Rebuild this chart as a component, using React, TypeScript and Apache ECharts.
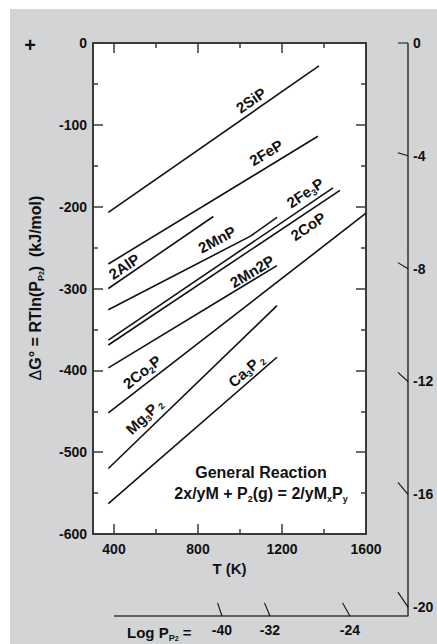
import React, { useEffect, useRef } from "react";
import * as echarts from "echarts";

const FONT = "'Liberation Sans', Arial, Helvetica, sans-serif";
const INK = "#111111";
const AXIS = "#3a3a3a";
const PAGE_BG = "#d3d4d6";

// Temperature axis (K)
const T_MIN = 300;
const T_MAX = 1600;
const T_LABELS = [400, 800, 1200, 1600];
const T_MINOR = [600, 1000, 1400];
// Free-energy axis (kJ/mol)
const G_MIN = -600;
const G_MAX = 0;
const G_STEP = 100;

// Reaction lines: [T (K), ΔG° (kJ/mol)]
const line2SiP = [[373, -207], [1376, -28]];
const line2FeP = [[373, -270], [1371, -114]];
const line2AlP = [[373, -300], [873, -212]];
const line2MnP = [[373, -326], [1050, -236], [1176, -213]];
const line2Fe3P = [[373, -363], [1443, -177]];
const line2CoP = [[373, -369], [1476, -180]];
const line2Mn2P = [[373, -397], [1176, -272]];
const line2Co2P = [[373, -452], [1600, -208]];
const lineMg3P2 = [[373, -520], [1176, -321]];
const lineCa3P2 = [[373, -563], [1176, -384]];

const SERIES_NAMES = ["2SiP", "2FeP", "2AlP", "2MnP", "2Fe3P", "2CoP", "2Mn2P", "2Co2P", "Mg3P2", "Ca3P2"];
const SERIES_DATA = [line2SiP, line2FeP, line2AlP, line2MnP, line2Fe3P, line2CoP, line2Mn2P, line2Co2P, lineMg3P2, lineCa3P2];

// In-plot labels
const LABEL_TEXT = [
  "{n|2SiP}",
  "{n|2FeP}",
  "{n|2AlP}",
  "{n|2MnP}",
  "{n|2Fe}{s|3}{n|P}",
  "{n|2CoP}",
  "{n|2Mn2P}",
  "{n|2Co}{s|2}{n|P}",
  "{n|Mg}{s|3}{n|P}{s| 2}",
  "{n|Ca}{s|3}{n|P}{s| 2}",
];
const LABEL_T = [1052, 1124, 448, 890, 1310, 1324, 1057, 533, 543, 1029];
const LABEL_G = [-70, -134, -273, -240, -183, -224, -279, -402, -456, -400];
const LABEL_ANGLE = [35, 31, 34, 28, 34, 34, 31, 38, 44, 41];

// Log P(P2) nomogram scales
const LOGP_RIGHT = [0, -4, -8, -12, -16, -20];
const LOGP_BOTTOM = [-40, -32, -24];
const NOMO_T = 1800; // K, right scale position
const NOMO_G = -700; // kJ/mol, bottom scale position
const NOMO_T_START = 400;
const R_LN10 = (8.314 * Math.log(10)) / 1000; // kJ/(mol K)

const richLabel = {
  n: { fontFamily: FONT, fontSize: 15, fontWeight: "bold", color: INK, lineHeight: 19, textBorderWidth: 0, opacity: 1 },
  s: { fontFamily: FONT, fontSize: 9, fontWeight: "bold", color: INK, lineHeight: 10, verticalAlign: "bottom", textBorderWidth: 0, opacity: 1 },
};

function buildOption() {
  const tickStyle = { color: AXIS, width: 1.5 };
  const axisLineStyle = { color: AXIS, width: 2 };
  const tickLabel = { fontFamily: FONT, fontSize: 14, fontWeight: "bold", color: INK };
  const plain = (v: number) => String(v);

  const xAxes: any[] = [
    {
      gridIndex: 0, type: "value", min: T_MIN, max: T_MAX, position: "bottom",
      axisLine: { show: true, onZero: false, lineStyle: axisLineStyle },
      axisTick: { show: true, inside: true, length: 10, customValues: T_LABELS, lineStyle: tickStyle },
      axisLabel: { show: true, customValues: T_LABELS, margin: 8, formatter: plain, ...tickLabel },
      splitLine: { show: false },
      name: "T (K)", nameLocation: "middle", nameGap: 26,
      nameTextStyle: { fontFamily: FONT, fontSize: 15, fontWeight: "bold", color: INK },
    },
    {
      gridIndex: 0, type: "value", min: T_MIN, max: T_MAX, position: "bottom",
      axisLine: { show: false, onZero: false },
      axisTick: { show: true, inside: true, length: 5, customValues: T_MINOR, lineStyle: tickStyle },
      axisLabel: { show: false }, splitLine: { show: false },
    },
    {
      gridIndex: 0, type: "value", min: T_MIN, max: T_MAX, position: "top",
      axisLine: { show: true, onZero: false, lineStyle: axisLineStyle },
      axisTick: { show: true, inside: true, length: 10, customValues: T_LABELS, lineStyle: tickStyle },
      axisLabel: { show: false }, splitLine: { show: false },
    },
    {
      gridIndex: 0, type: "value", min: T_MIN, max: T_MAX, position: "top",
      axisLine: { show: false, onZero: false },
      axisTick: { show: true, inside: true, length: 5, customValues: T_MINOR, lineStyle: tickStyle },
      axisLabel: { show: false }, splitLine: { show: false },
    },
    { gridIndex: 1, type: "value", min: 0, max: NOMO_T, show: false },
  ];

  const yAxes: any[] = [
    {
      gridIndex: 0, type: "value", min: G_MIN, max: G_MAX, interval: G_STEP, position: "left",
      axisLine: { show: true, onZero: false, lineStyle: axisLineStyle },
      axisTick: { show: true, inside: true, length: 10, lineStyle: tickStyle },
      minorTick: { show: true, splitNumber: 2, length: 5, lineStyle: tickStyle },
      axisLabel: { show: true, margin: 6, formatter: plain, ...tickLabel },
      splitLine: { show: false },
    },
    {
      gridIndex: 0, type: "value", min: G_MIN, max: G_MAX, interval: G_STEP, position: "right",
      axisLine: { show: true, onZero: false, lineStyle: axisLineStyle },
      axisTick: { show: true, inside: true, length: 10, lineStyle: tickStyle },
      minorTick: { show: true, splitNumber: 2, length: 5, lineStyle: tickStyle },
      axisLabel: { show: false },
      splitLine: { show: false },
    },
    { gridIndex: 1, type: "value", min: NOMO_G, max: 0, show: false },
  ];

  const series: any[] = [];

  SERIES_DATA.forEach((d, i) => {
    series.push({
      type: "line", name: SERIES_NAMES[i], xAxisIndex: 0, yAxisIndex: 0,
      data: d, symbol: "none", silent: true, clip: false,
      lineStyle: { color: INK, width: 1.6 },
    });
  });

  series.push({
    type: "scatter", xAxisIndex: 0, yAxisIndex: 0, symbolSize: 0, silent: true,
    itemStyle: { color: INK, opacity: 1 },
    data: LABEL_T.map((t, i) => ({
      value: [t, LABEL_G[i]],
      label: {
        show: true, position: "top", distance: 0, formatter: LABEL_TEXT[i], rotate: LABEL_ANGLE[i],
        align: "center", verticalAlign: "middle", rich: richLabel, opacity: 1,
        color: INK, fontWeight: "bold", fontFamily: FONT, fontSize: 15, textBorderWidth: 0,
      },
    })),
  });

  // Nomogram frame (grid 1)
  const nomoLine = { color: AXIS, width: 1.6 };
  series.push({
    type: "line", xAxisIndex: 4, yAxisIndex: 2, symbol: "none", silent: true, clip: false,
    data: [[NOMO_T_START, NOMO_G], [NOMO_T, NOMO_G], [NOMO_T, 0]],
    lineStyle: nomoLine,
  });
  LOGP_RIGHT.forEach((k) => {
    const t0 = NOMO_T - 48;
    series.push({
      type: "line", xAxisIndex: 4, yAxisIndex: 2, symbol: "none", silent: true, clip: false,
      data: [[t0, R_LN10 * k * t0], [NOMO_T, R_LN10 * k * NOMO_T]],
      lineStyle: { color: INK, width: 1.1 },
    });
  });
  LOGP_BOTTOM.forEach((k) => {
    const g0 = NOMO_G + 16;
    series.push({
      type: "line", xAxisIndex: 4, yAxisIndex: 2, symbol: "none", silent: true, clip: false,
      data: [[g0 / (R_LN10 * k), g0], [NOMO_G / (R_LN10 * k), NOMO_G]],
      lineStyle: { color: INK, width: 1.1 },
    });
  });
  series.push({
    type: "scatter", xAxisIndex: 4, yAxisIndex: 2, symbolSize: 0, silent: true,
    itemStyle: { opacity: 1 },
    data: LOGP_RIGHT.map((k) => [NOMO_T, R_LN10 * k * NOMO_T, String(k)]),
    label: {
      show: true, position: "right", distance: 5,
      formatter: (p: any) => p.value[2],
      ...tickLabel,
    },
  });
  series.push({
    type: "scatter", xAxisIndex: 4, yAxisIndex: 2, symbolSize: 0, silent: true,
    itemStyle: { opacity: 1 },
    data: LOGP_BOTTOM.map((k) => [NOMO_G / (R_LN10 * k), NOMO_G, String(k)]),
    label: {
      show: true, position: "bottom", distance: 7,
      formatter: (p: any) => p.value[2],
      ...tickLabel,
    },
  });
  series.push({
    type: "scatter", xAxisIndex: 4, yAxisIndex: 2, symbolSize: 0, silent: true,
    itemStyle: { opacity: 1 },
    data: [[0, 0]],
    label: {
      show: true, position: "top", distance: -12, formatter: "+", textBorderWidth: 0,
      fontFamily: FONT, fontSize: 20, fontWeight: "bold", color: INK,
    },
  });

  const graphic: any[] = [
    {
      type: "text", x: 25, y: 279, rotation: Math.PI / 2, silent: true,
      style: {
        text: "{d|Δ}{b|G° = RTln(P}{s|P}{ss|2}{b|)  (kJ/mol)}",
        align: "center", verticalAlign: "middle",
        rich: {
          d: { fontFamily: FONT, fontSize: 16, fontWeight: "normal", fill: INK, color: INK, lineHeight: 20 },
          b: { fontFamily: FONT, fontSize: 16, fontWeight: "bold", fill: INK, color: INK, lineHeight: 20 },
          s: { fontFamily: FONT, fontSize: 9, fontWeight: "bold", fill: INK, color: INK, lineHeight: 10, verticalAlign: "bottom" },
          ss: { fontFamily: FONT, fontSize: 7, fontWeight: "bold", fill: INK, color: INK, lineHeight: 7, verticalAlign: "bottom" },
        },
      },
    },
    {
      type: "text", x: 251, y: 463, silent: true,
      style: {
        text: "General Reaction", align: "center", verticalAlign: "middle",
        font: `bold 16px ${FONT}`, fill: INK,
      },
    },
    {
      type: "text", x: 251, y: 484, silent: true,
      style: {
        text: "{b|2x/yM + P}{s|2}{b|(g) = 2/yM}{s|x}{b|P}{s|y}",
        align: "center", verticalAlign: "middle",
        rich: {
          b: { fontFamily: FONT, fontSize: 16, fontWeight: "bold", fill: INK, color: INK, lineHeight: 20 },
          s: { fontFamily: FONT, fontSize: 9, fontWeight: "bold", fill: INK, color: INK, lineHeight: 10, verticalAlign: "bottom" },
        },
      },
    },
    {
      type: "text", x: 117, y: 623, silent: true,
      style: {
        text: "{b|Log P}{s|P}{ss|2}{b| =}",
        align: "left", verticalAlign: "middle",
        rich: {
          b: { fontFamily: FONT, fontSize: 15, fontWeight: "bold", fill: INK, color: INK, lineHeight: 20 },
          s: { fontFamily: FONT, fontSize: 9, fontWeight: "bold", fill: INK, color: INK, lineHeight: 10, verticalAlign: "bottom" },
          ss: { fontFamily: FONT, fontSize: 7, fontWeight: "bold", fill: INK, color: INK, lineHeight: 7, verticalAlign: "bottom" },
        },
      },
    },
  ];

  return {
    animation: false,
    backgroundColor: "transparent",
    grid: [
      { left: 83, top: 34, width: 273, height: 491, show: true, backgroundColor: "#ffffff", borderWidth: 0, containLabel: false },
      { left: 20, top: 34, width: 378, height: 573, show: false, containLabel: false },
    ],
    xAxis: xAxes,
    yAxis: yAxes,
    series,
    graphic,
  };
}

export default function App() {
  const ref = useRef<HTMLDivElement>(null);
  useEffect(() => {
    if (!ref.current) return;
    const chart = echarts.init(ref.current, null, { renderer: "svg" });
    chart.setOption(buildOption() as any);
    return () => chart.dispose();
  }, []);
  return (
    <div style={{ position: "absolute", left: 10, top: 9, width: 427, height: 635, background: PAGE_BG, overflow: "hidden" }}>
      <div ref={ref} style={{ width: 427, height: 635 }} />
    </div>
  );
}
